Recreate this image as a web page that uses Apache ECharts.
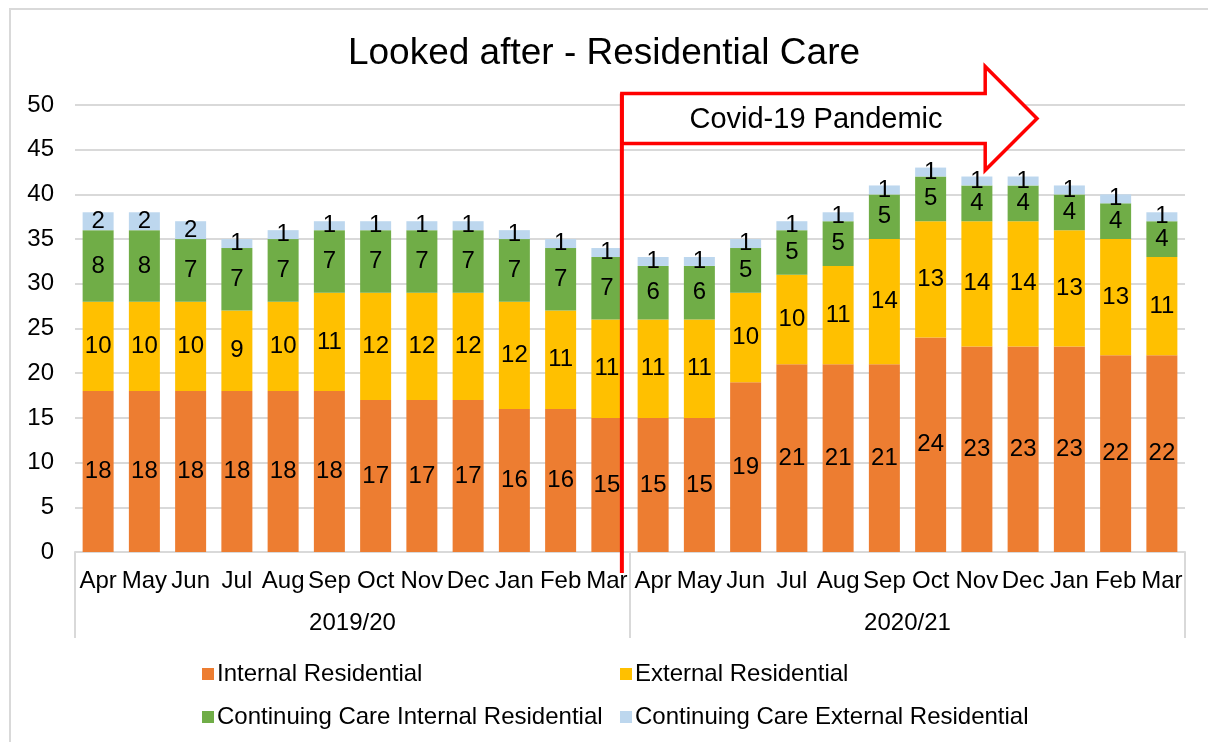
<!DOCTYPE html>
<html>
<head>
<meta charset="utf-8">
<script src="https://cdn.jsdelivr.net/npm/echarts@6/dist/echarts.min.js"></script>
<style>
  html, body { margin: 0; padding: 0; background: #fff; }
  #chart { width: 1208px; height: 742px; }
</style>
</head>
<body>
<div id="chart"></div>
<script>
// months and financial years
const months = ['Apr','May','Jun','Jul','Aug','Sep','Oct','Nov','Dec','Jan','Feb','Mar',
                'Apr','May','Jun','Jul','Aug','Sep','Oct','Nov','Dec','Jan','Feb','Mar'];
const years = ['2019/20', '2020/21'];

const internalRes   = [18,18,18,18,18,18,17,17,17,16,16,15, 15,15,19,21,21,21,24,23,23,23,22,22];
const externalRes   = [10,10,10, 9,10,11,12,12,12,12,11,11, 11,11,10,10,11,14,13,14,14,13,13,11];
const ccInternalRes = [ 8, 8, 7, 7, 7, 7, 7, 7, 7, 7, 7, 7,  6, 6, 5, 5, 5, 5, 5, 4, 4, 4, 4, 4];
const ccExternalRes = [ 2, 2, 2, 1, 1, 1, 1, 1, 1, 1, 1, 1,  1, 1, 1, 1, 1, 1, 1, 1, 1, 1, 1, 1];

const yTicks = { min: 0, max: 50, interval: 5 };

const FONT = 'Liberation Sans, Arial, sans-serif';
const grey = '#d9d9d9';

function barSeries(name, data, color) {
    return {
        name: name,
        type: 'bar',
        stack: 'total',
        data: data,
        barWidth: 31,
        itemStyle: { color: color },
        label: {
            show: true,
            position: 'inside',
            color: '#000',
            fontFamily: FONT,
            fontSize: 24
        }
    };
}

let myChart = echarts.init(document.getElementById('chart'));

const legendText = { fontFamily: FONT, fontSize: 24, color: '#000', lineHeight: 24, padding: [0, 0, 0, -2] };

const option = {
    backgroundColor: '#fff',
    animation: false,
    title: {
        text: 'Looked after - Residential Care',
        left: 'center',
        top: 30,
        textStyle: { fontFamily: FONT, fontSize: 37, fontWeight: 'normal', color: '#000' }
    },
    grid: { left: 75, right: 23, top: 105, bottom: 190 },
    legend: [
        {
            data: ['Internal Residential', 'Continuing Care Internal Residential'],
            orient: 'vertical',
            left: 197, top: 657,
            itemWidth: 12, itemHeight: 12, itemGap: 19,
            icon: 'rect',
            textStyle: legendText
        },
        {
            data: ['External Residential', 'Continuing Care External Residential'],
            orient: 'vertical',
            left: 615, top: 657,
            itemWidth: 12, itemHeight: 12, itemGap: 19,
            icon: 'rect',
            textStyle: legendText
        }
    ],
    xAxis: [
        {
            type: 'category',
            data: months,
            position: 'bottom',
            axisLine: { lineStyle: { color: grey, width: 2 } },
            axisTick: { show: false },
            axisLabel: { color: '#000', fontFamily: FONT, fontSize: 24, margin: 17, interval: 0 }
        },
        {
            type: 'category',
            data: years,
            position: 'bottom',
            axisLine: { show: false },
            axisTick: { show: true, length: 86, lineStyle: { color: grey, width: 2 } },
            axisLabel: { color: '#000', fontFamily: FONT, fontSize: 24, margin: 59 }
        }
    ],
    yAxis: {
        type: 'value',
        min: yTicks.min, max: yTicks.max, interval: yTicks.interval,
        axisLine: { show: false },
        axisTick: { show: false },
        splitLine: { lineStyle: { color: grey, width: 2 } },
        axisLabel: { color: '#000', fontFamily: FONT, fontSize: 24, margin: 21 }
    },
    series: [
        barSeries('Internal Residential', internalRes, '#ED7D31'),
        barSeries('External Residential', externalRes, '#FFC000'),
        barSeries('Continuing Care Internal Residential', ccInternalRes, '#70AD47'),
        barSeries('Continuing Care External Residential', ccExternalRes, '#BDD7EE')
    ]
};

myChart.setOption(option);

// covid annotation, placed from the axes
function xAt(idx) {
    const a = myChart.convertToPixel({ xAxisIndex: 0 }, 0);
    const b = myChart.convertToPixel({ xAxisIndex: 0 }, 1);
    return a + (b - a) * idx;
}
function yAt(v) {
    return myChart.convertToPixel({ yAxisIndex: 0 }, v);
}

const x0 = xAt(11) + 15;
const xBase = xAt(19.18);
const xTip = xAt(20.3);
const yTop = yAt(51.3), yBot = yAt(45.7);
const yHeadTop = yAt(54.3), yHeadBot = yAt(42.7), yMid = yAt(48.5);
const yAxisBottom = yAt(0) + 21;

myChart.setOption({
    graphic: [
        {
            type: 'polyline',
            shape: { points: [[10, 742], [10, 9], [1208, 9]] },
            style: { stroke: grey, lineWidth: 2, fill: null },
            silent: true
        },
        {
            type: 'polygon',
            shape: { points: [[x0, yTop], [xBase, yTop], [xBase, yHeadTop], [xTip, yMid],
                              [xBase, yHeadBot], [xBase, yBot], [x0, yBot]] },
            style: { stroke: '#ff0000', lineWidth: 3.5, fill: '#fff' },
            z: 10
        },
        {
            type: 'line',
            shape: { x1: x0, y1: yTop, x2: x0, y2: yAxisBottom },
            style: { stroke: '#ff0000', lineWidth: 4 },
            z: 11
        },
        {
            type: 'text',
            x: 816,
            y: (yTop + yBot) / 2 + 2,
            style: {
                text: 'Covid-19 Pandemic',
                font: '29px ' + FONT,
                fill: '#000',
                align: 'center',
                verticalAlign: 'middle'
            },
            z: 12
        }
    ]
});
</script>
</body>
</html>
